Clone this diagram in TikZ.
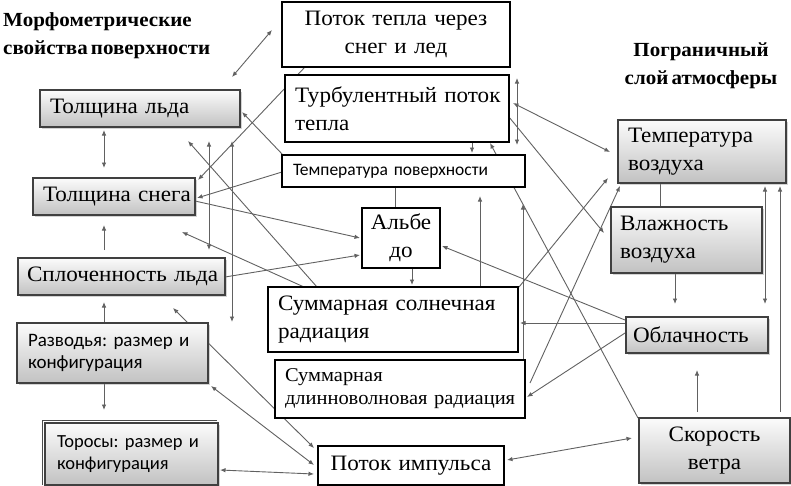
\documentclass[tikz,border=0pt]{standalone}
\usepackage{fontspec}
\setmainfont{Liberation Serif}[FakeStretch=1.05, WordSpace=0.6]
\newfontfamily\sansf{Carlito}[WordSpace=0.8]
\usetikzlibrary{arrows.meta,shadows}
\pgfdeclarelayer{bg}
\pgfsetlayers{bg,main}
\frenchspacing
\begin{document}
\begin{tikzpicture}[x=1pt,y=-1pt,
  gbox/.style={draw=black!75, line width=1.1pt, top color=gray!3, bottom color=gray!48,
    drop shadow={shadow xshift=1.5pt,shadow yshift=-1.5pt,opacity=0.35},
    anchor=north west, inner xsep=10pt, inner ysep=0pt, outer sep=0pt, align=left},
  wbox/.style={draw=black, line width=2.2pt, fill=white, anchor=north west,
    inner xsep=10pt, inner ysep=0pt, outer sep=0pt, align=left},
  ser/.style={font=\fontsize{22}{28}\selectfont},
  san/.style={font=\sansf\fontsize{19}{22}\selectfont},
  conn/.style={draw=black!62, line width=0.9pt},
  ar/.style={conn, -{Latex[length=5.5pt,width=4.5pt]}},
  dar/.style={conn, {Latex[length=5.5pt,width=4.5pt]}-{Latex[length=5.5pt,width=4.5pt]}},
]
\useasboundingbox (0,0) rectangle (791,485);

% titles
\node[font=\bfseries\fontsize{20}{28}\selectfont, align=left, anchor=west, inner sep=0pt] (titleL) at (3,36) {Морфометрические\\свойства поверхности};
\node[font=\bfseries\fontsize{20}{28}\selectfont, align=center, inner sep=0pt] (titleR) at (701,66) {Пограничный\\слой атмосферы};
\coordinate (titleArrow) at (232,77);

% left column (grey boxes)
\node[gbox, ser, text width=180pt, minimum height=37pt] (ice) at (40,90) {Толщина~льда};
\node[gbox, ser, text width=142pt, minimum height=37pt] (snow) at (33,178) {Толщина~снега};
\node[gbox, ser, inner xsep=9pt, text width=189pt, minimum height=37pt] (conc) at (18,258) {Сплоченность~льда};
\node[gbox, san, inner xsep=11pt, text width=169pt, minimum height=60pt] (leads) at (17,323) {Разводья:~размер~и\\конфигурация};
\node[gbox, font=\sansf\fontsize{18.5}{22}\selectfont, inner xsep=12pt, text width=149pt, minimum height=62pt] (ridges) at (45,423) {Торосы:~размер~и\\конфигурация};
\draw[draw=black!70, line width=0.8pt] ([shift={(-3,62)}]ridges.north west) -- ([shift={(-3,-3)}]ridges.north west) -- ([shift={(172,-3)}]ridges.north west);

% middle column (white boxes)
\node[wbox, ser, align=center, text width=208pt, minimum height=65pt] (heat) at (282,2) {Поток тепла через\\снег и лед};
\node[wbox, ser, inner xsep=10pt, text width=204pt, minimum height=67pt] (turb) at (285,75) {Турбулентный~поток\\тепла};
\node[wbox, font=\sansf\fontsize{17.5}{18}\selectfont, inner xsep=11pt, text width=221pt, minimum height=32pt] (tsurf) at (282,155) {Температура~поверхности};
\node[wbox, ser, align=center, inner xsep=8pt, text width=62pt, minimum height=60pt] (alb) at (362,208) {Альбе\\до};
\node[wbox, ser, text width=230pt, minimum height=65pt] (solar) at (268,287) {Суммарная~солнечная\\радиация};
\node[wbox, font=\fontsize{19.5}{23}\selectfont, text width=230pt, minimum height=58pt] (lw) at (275,360) {Суммарная\\длинноволновая~радиация};
\node[wbox, ser, align=center, text width=166pt, minimum height=39pt] (mom) at (318,446) {Поток~импульса};

% right column (grey boxes)
\node[gbox, ser, text width=148pt, minimum height=63pt] (tair) at (618,120) {Температура\\воздуха};
\node[gbox, ser, inner xsep=9pt, text width=133pt, minimum height=66pt] (hum) at (611,207) {Влажность\\воздуха};
\node[gbox, ser, inner xsep=7pt, text width=128pt, minimum height=36pt] (cloud) at (626,317) {Облачность};
\node[gbox, ser, align=center, text width=131pt, minimum height=65pt] (wind) at (639,418) {Скорость\\ветра};

\begin{pgfonlayer}{bg}
% L1 title <-> heat flux
\draw[dar] (titleArrow) -- ([shift={(-10,28)}]heat.north west);
% left column verticals
\draw[dar] ([shift={(64,40)}]ice.north west) -- ([shift={(71,-10)}]snow.north west);
\draw[ar] ([shift={(86,-8)}]conc.north west) -- ([shift={(71,47)}]snow.north west);
\draw[ar] ([shift={(87,0)}]leads.north west) -- ([shift={(86,44)}]conc.north west);
\draw[ar] ([shift={(87,60)}]leads.north west) -- ([shift={(59,-13)}]ridges.north west);
\draw[dar] ([shift={(169,51)}]ice.north west) -- ([shift={(191,-8)}]conc.north west);
\draw[dar] ([shift={(192,51)}]ice.north west) -- ([shift={(215,-1)}]leads.north west);
% diagonals to left column
\draw[ar] ([shift={(49,0)}]solar.north west) -- ([shift={(148,51)}]ice.north west);
\draw[ar] ([shift={(1,0)}]tsurf.north west) -- ([shift={(202,22)}]ice.north west);
\draw[ar] ([shift={(23,65)}]heat.north west) -- ([shift={(165,2)}]snow.north west);
\draw[ar] ([shift={(0,17)}]tsurf.north west) -- ([shift={(164,20)}]snow.north west);
\draw[ar] ([shift={(162,23)}]snow.north west) -- ([shift={(-2,30)}]alb.north west);
\draw[ar] ([shift={(207,19)}]conc.north west) -- ([shift={(-2,47)}]alb.north west);
\draw[ar] ([shift={(36,0)}]solar.north west) -- ([shift={(149,54)}]snow.north west);
\draw[dar] ([shift={(-4,2)}]mom.north west) -- ([shift={(155,50)}]conc.north west);
\draw[dar] ([shift={(194,63)}]leads.north west) -- ([shift={(-4,19)}]mom.north west);
\draw[dar] ([shift={(175,47)}]ridges.north west) -- ([shift={(-4,28)}]mom.north west);
\draw[dar] ([shift={(-7,20)}]wind.north west) -- ([shift={(189,14)}]mom.north west);
% middle
\draw[dar] ([shift={(235,76)}]heat.north west) -- ([shift={(235,-10)}]tsurf.north west);
\draw[dar] ([shift={(228,28)}]turb.north west) -- ([shift={(-8,32)}]tair.north west);
\draw[ar] ([shift={(224,42)}]turb.north west) -- ([shift={(-7,26)}]hum.north west);
\draw[ar] ([shift={(187,67)}]turb.north west) -- ([shift={(190,-2)}]tsurf.north west);
\draw[ar] ([shift={(-1,0)}]wind.north west) -- ([shift={(205,68)}]turb.north west);
\draw[conn] ([shift={(113,32)}]tsurf.north west) -- ([shift={(33,0)}]alb.north west);
\draw[ar] ([shift={(50,60)}]alb.north west) -- ([shift={(144,-2)}]solar.north west);
\draw[ar] ([shift={(212,0)}]solar.north west) -- ([shift={(198,41)}]tsurf.north west);
\draw[ar] ([shift={(248,0)}]lw.north west) -- ([shift={(241,49)}]tsurf.north west);
% from cloudiness
\draw[ar] ([shift={(-1,3)}]cloud.north west) -- ([shift={(80,38)}]alb.north west);
\draw[ar] ([shift={(0,6)}]cloud.north west) -- ([shift={(252,36)}]solar.north west);
\draw[ar] ([shift={(-1,16)}]cloud.north west) -- ([shift={(252,37)}]lw.north west);
% to air temperature
\draw[ar] ([shift={(255,23)}]lw.north west) -- ([shift={(2,66)}]tair.north west);
\draw[ar] ([shift={(251,0)}]solar.north west) -- ([shift={(-10,58)}]tair.north west);
% right column
\draw[conn] ([shift={(42,63)}]tair.north west) -- ([shift={(49,0)}]hum.north west);
\draw[ar] ([shift={(64,66)}]hum.north west) -- ([shift={(49,-13)}]cloud.north west);
\draw[dar] ([shift={(147,66)}]tair.north west) -- ([shift={(139,-13)}]cloud.north west);
\draw[ar] ([shift={(141,-6)}]wind.north west) -- ([shift={(162,66)}]tair.north west);
\draw[ar] ([shift={(58,-6)}]wind.north west) -- ([shift={(71,53)}]cloud.north west);
\end{pgfonlayer}
\end{tikzpicture}
\end{document}
